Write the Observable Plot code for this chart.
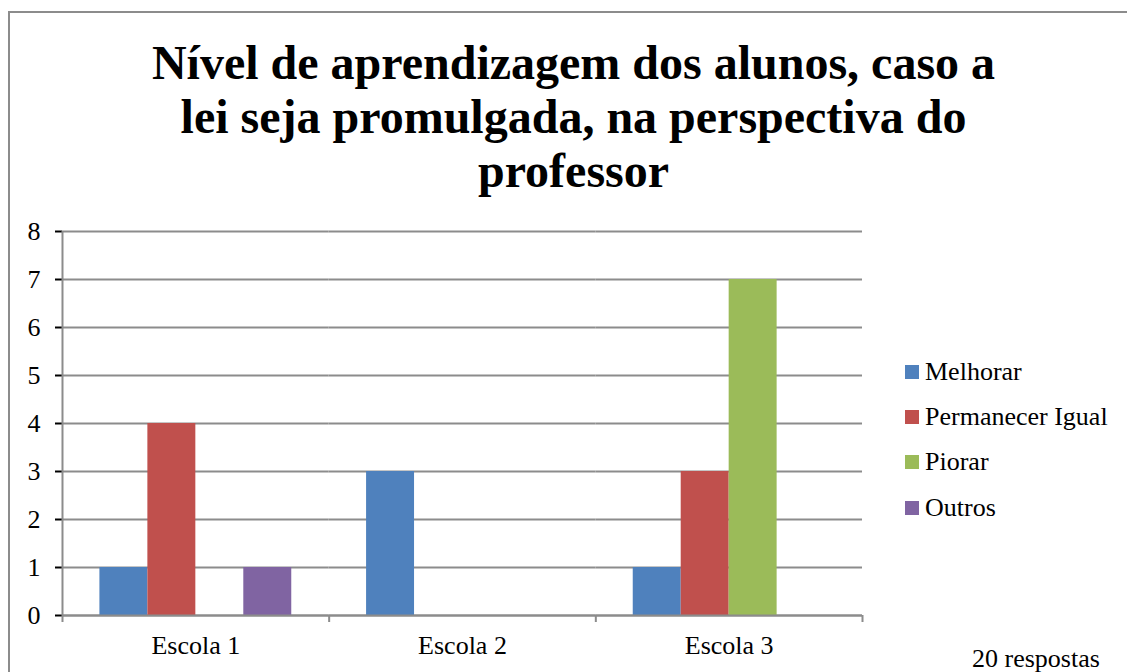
<!DOCTYPE html>
<html>
<head>
<meta charset="utf-8">
<script src="https://cdn.jsdelivr.net/npm/d3@7"></script>
<script src="https://cdn.jsdelivr.net/npm/@observablehq/plot@0.6"></script>
<style>
  html, body { margin: 0; padding: 0; background: #fff; width: 1127px; height: 672px; overflow: hidden; }
  body { position: relative; font-family: "Liberation Serif", "Times New Roman", serif; color: #000; }
  #border { position: absolute; left: 8px; top: 11px; width: 1300px; height: 900px; border: 2px solid #8c8c8c; box-sizing: border-box; }
  #title { position: absolute; left: 0; top: 36px; width: 1147px; text-align: center; font-size: 48px; font-weight: bold; line-height: 54px; }
  #chart { position: absolute; left: 0; top: 0; }
  #legend { position: absolute; left: 905px; top: 349px; font-size: 26px; }
  .item { display: flex; align-items: center; height: 45.4px; white-space: nowrap; }
  .sw { width: 14px; height: 14px; margin-right: 6px; flex: none; }
  #note { position: absolute; left: 972px; top: 646px; font-size: 26px; line-height: 1; white-space: nowrap; }
  svg [aria-label="y-axis tick"] { stroke: #8c8c8c; stroke-width: 2px; }
</style>
</head>
<body>
<div id="border"></div>
<div id="title">Nível de aprendizagem dos alunos, caso a<br>lei seja promulgada, na perspectiva do<br>professor</div>
<div id="chart"></div>
<div id="legend"></div>
<div id="note">20 respostas</div>
<script>
const escolas = ["Escola 1", "Escola 2", "Escola 3"];
const series = ["Melhorar", "Permanecer Igual", "Piorar", "Outros"];
const melhorar = [1, 3, 1];
const permanecerIgual = [4, 0, 3];
const piorar = [0, 0, 7];
const outros = [1, 0, 0];
const colors = ["#4F81BD", "#C0504D", "#9BBB59", "#8064A2"];
const yTicks = [0, 1, 2, 3, 4, 5, 6, 7, 8];

const valuesBySeries = [melhorar, permanecerIgual, piorar, outros];
const rows = [];
escolas.forEach((e, i) => {
  series.forEach((s, j) => rows.push({escola: e, serie: s, valor: valuesBySeries[j][i]}));
});

const grid = "#8c8c8c";
const firstTick = escolas.map(e => ({escola: e, serie: series[0]}));
const lastTick = [{escola: escolas[escolas.length - 1], serie: series[series.length - 1]}];
const yAxisLine = [{escola: escolas[0], serie: series[0]}];
const halfOffset = 61.4;

const chart = Plot.plot({
  width: 1127,
  height: 672,
  marginLeft: 62,
  marginRight: 265,
  marginTop: 231,
  marginBottom: 57,
  style: {fontFamily: "'Liberation Serif', 'Times New Roman', serif", fontSize: "26px", color: "#000", background: "transparent", overflow: "visible"},
  fx: {domain: escolas, padding: 0, round: false, axis: "bottom", tickSize: 0, tickPadding: 20.5, label: null},
  x: {domain: series, paddingInner: 0, paddingOuter: 0.78, round: false, axis: null},
  y: {domain: [0, 8], ticks: yTicks, tickSize: 7, tickPadding: 15, label: null, tickFormat: d => String(d)},
  color: {domain: series, range: colors},
  marks: [
    Plot.ruleY(yTicks, {stroke: grid, strokeWidth: 2}),
    Plot.barY(rows, {fx: "escola", x: "serie", y: "valor", fill: "serie"}),
    Plot.ruleY([0], {stroke: grid, strokeWidth: 2}),
    Plot.ruleX(yAxisLine, {fx: "escola", x: "serie", y1: 0, y2: 8, dx: -halfOffset, stroke: grid, strokeWidth: 2}),
    Plot.ruleX(firstTick, {fx: "escola", x: "serie", y1: 0, y2: 0, insetBottom: -7, dx: -halfOffset, stroke: grid, strokeWidth: 2}),
    Plot.ruleX(lastTick, {fx: "escola", x: "serie", y1: 0, y2: 0, insetBottom: -7, dx: halfOffset, stroke: grid, strokeWidth: 2})
  ]
});
document.getElementById("chart").appendChild(chart);

const legend = document.getElementById("legend");
series.forEach((s, j) => {
  const item = document.createElement("div");
  item.className = "item";
  const sw = document.createElement("span");
  sw.className = "sw";
  sw.style.background = colors[j];
  const t = document.createElement("span");
  t.textContent = s;
  item.appendChild(sw);
  item.appendChild(t);
  legend.appendChild(item);
});
</script>
</body>
</html>
